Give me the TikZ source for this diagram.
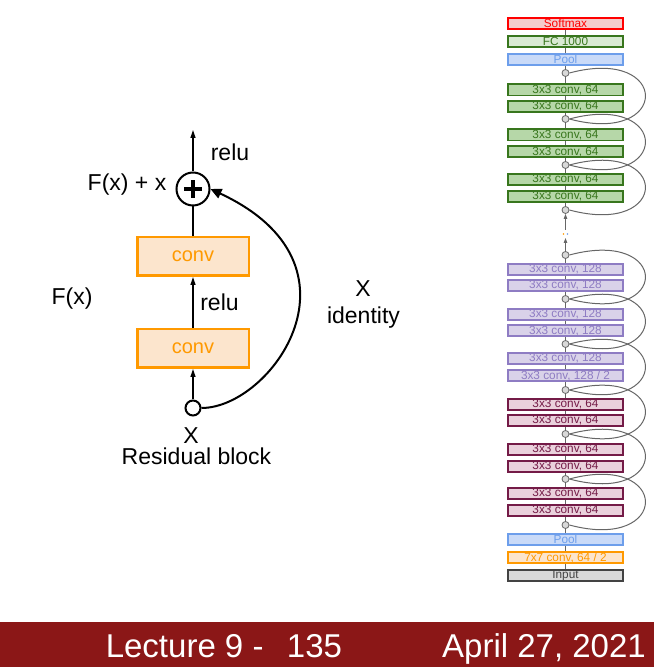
\documentclass[tikz,border=0pt]{standalone}
\usepackage{fontspec}
\setmainfont{Liberation Sans}
\usetikzlibrary{arrows.meta}

\definecolor{footred}{RGB}{139,23,23}
\definecolor{softred}{HTML}{FF0000}
\definecolor{softfill}{HTML}{F4CCCC}
\definecolor{fcfill}{HTML}{D9EAD3}
\definecolor{gdark}{HTML}{38761D}
\definecolor{gfill}{HTML}{B6D7A8}
\definecolor{pooldraw}{HTML}{6D9EEB}
\definecolor{poolfill}{HTML}{C9DAF8}
\definecolor{pdark}{HTML}{8E7CC3}
\definecolor{pfill}{HTML}{D9D2E9}
\definecolor{mdark}{HTML}{741B47}
\definecolor{mfill}{HTML}{EAD1DC}
\definecolor{odark}{HTML}{FF9900}
\definecolor{ofill}{HTML}{FCE5CD}
\definecolor{idark}{HTML}{434343}
\definecolor{ifill}{HTML}{D9D9D9}
\definecolor{skipgray}{HTML}{666666}

\tikzset{
    layer/.style={draw, line width=1.8pt, minimum width=115.2pt, minimum height=11.2pt,
        inner sep=0pt, font=\fontsize{11.8}{12}\selectfont},
    softbox/.style={layer, draw=softred, fill=softfill, text=softred},
    fcbox/.style={layer, draw=gdark, fill=fcfill, text=gdark},
    poolbox/.style={layer, draw=pooldraw, fill=poolfill, text=pooldraw},
    gbox/.style={layer, draw=gdark, fill=gfill, text=gdark},
    pbox/.style={layer, draw=pdark, fill=pfill, text=pdark},
    mbox/.style={layer, draw=mdark, fill=mfill, text=mdark},
    obox/.style={layer, draw=odark, fill=ofill, text=odark},
    inbox/.style={layer, draw=idark, fill=ifill, text=idark},
    joint/.style={circle, draw=skipgray, fill=ifill, line width=0.8pt, minimum size=7pt, inner sep=0pt},
    spine/.style={skipgray, line width=0.8pt},
    skip/.style={skipgray, line width=1pt},
    convbox/.style={draw=odark, fill=ofill, text=odark, line width=2.5pt, minimum width=111.5pt,
        minimum height=38.5pt, inner sep=0pt, font=\fontsize{20}{24}\selectfont},
    lbl/.style={anchor=base, inner sep=0pt, font=\fontsize{23}{27}\selectfont},
    thinarrow/.style={line width=1.2pt, -{Triangle[length=8pt,width=5pt]}},
    foot/.style={inner sep=0pt, text=white, font=\fontsize{33}{40}\selectfont},
}

\begin{document}
\begin{tikzpicture}[x=1pt,y=1pt]
    \useasboundingbox (0,0) rectangle (654,667);

    % residual block
    \node [convbox] (conv2) at (193,410.5) {conv};
    \node [convbox] (conv1) at (193,318.5) {conv};
    \node [circle, draw, line width=2pt, minimum size=33pt, inner sep=0pt] (plus) at (193,478) {};
    \draw [line width=3.5pt] ([xshift=-9pt]plus.center) -- ([xshift=9pt]plus.center);
    \draw [line width=3.5pt] ([yshift=-9pt]plus.center) -- ([yshift=9pt]plus.center);
    \node [circle, draw, line width=2pt, minimum size=15pt, inner sep=0pt] (x) at (193,259) {};
    \coordinate (out) at (193,537);

    \draw [thinarrow] (plus) -- (out);
    \draw [line width=1.2pt] (conv2) -- (plus);
    \draw [thinarrow] (conv1) -- (conv2);
    \draw [thinarrow] (x) -- (conv1);
    \draw [line width=2pt, -{Triangle[length=11pt,width=10pt]}]
        (x.east) .. controls +(70,0) and +(-25:180) .. (plus.east);

    \node [lbl] (reluout) at (230,506.3) {relu};
    \node [lbl] (sum) at (127,476.3) {F(x) + x};
    \node [lbl] (relumid) at (219.5,356.3) {relu};
    \node [lbl] (fx) at (72,362) {F(x)};
    \node [lbl] (xright) at (363,370.3) {X};
    \node [lbl] (ident) at (363.5,343) {identity};
    \node [lbl] (xbot) at (191,223) {X};
    \node [lbl] (title) at (196.5,202) {Residual block};

    % resnet stack
    \node [softbox] (soft) at (565.5,643.5) {Softmax};
    \node [fcbox] (fc) at (565.5,625.5) {FC 1000};
    \node [poolbox] (pooltop) at (565.5,607.5) {Pool};
    \foreach \n/\y in {g1/577, g2/560.5, g3/532, g4/515.3, g5/487.5, g6/470.7}
        \node [gbox] (\n) at (565.5,\y) {3x3 conv, 64};
    \foreach \n/\y in {p1/397.7, p2/381.5, p3/352.5, p4/336.2, p5/308.5}
        \node [pbox] (\n) at (565.5,\y) {3x3 conv, 128};
    \node [pbox] (p6) at (565.5,291.5) {3x3 conv, 128 / 2};
    \foreach \n/\y in {m1/262.5, m2/246.5, m3/217.5, m4/200.5, m5/173.5, m6/156.5}
        \node [mbox] (\n) at (565.5,\y) {3x3 conv, 64};
    \node [poolbox] (poolbot) at (565.5,127.5) {Pool};
    \node [obox] (conv7) at (565.5,109.5) {7x7 conv, 64 / 2};
    \node [inbox] (input) at (565.5,91.5) {Input};
    \foreach \n/\y in {c1/594, c2/548, c3/502, c4/457, c5/412, c6/368, c7/323,
        c8/277, c9/233, c10/188, c11/142}
        \node [joint] (\n) at (565.5,\y) {};

    \foreach \a/\b in {soft/fc, fc/pooltop, pooltop/c1, c1/g1, g1/g2, g2/c2, c2/g3,
        g3/g4, g4/c3, c3/g5, g5/g6, g6/c4, c5/p1, p1/p2, p2/c6, c6/p3, p3/p4, p4/c7,
        c7/p5, p5/p6, p6/c8, c8/m1, m1/m2, m2/c9, c9/m3, m3/m4, m4/c10, c10/m5,
        m5/m6, m6/c11, c11/poolbot, poolbot/conv7, conv7/input}
        \draw [spine] (\a.south) -- (\b.north);

    \foreach \a/\b in {c1/c2, c2/c3, c3/c4, c5/c6, c6/c7, c7/c8, c8/c9, c9/c10, c10/c11}
        \draw [skip] (\a.east) .. controls +(15:105) and +(-15:105) .. (\b.east);

    \coordinate (dots) at (565.5,433);
    \draw [spine, -{Triangle[length=5pt,width=3.5pt]}] (c5.north) -- ([yshift=-4pt]dots);
    \draw [spine, -{Triangle[length=5pt,width=3.5pt]}] ([yshift=4pt]dots) -- (c4.south);
    \fill [odark] ([xshift=-2pt]dots) circle (0.8pt);
    \fill [pooldraw] ([xshift=2pt]dots) circle (0.8pt);

    % footer
    \fill [footred] (0,0) rectangle (654,45);
    \node [foot, anchor=base west] (lecture) at (105.6,9.3) {Lecture 9 -\hspace{23.4pt}135};
    \node [foot, anchor=base east] (date) at (646,9.3) {April 27, 2021};
\end{tikzpicture}
\end{document}
